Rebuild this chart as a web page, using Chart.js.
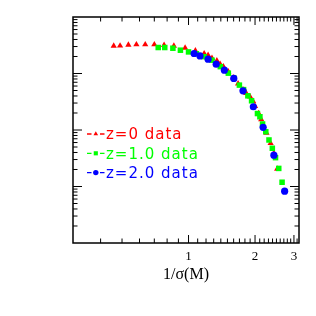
<!DOCTYPE html>
<html>
<head>
<meta charset="utf-8">
<script src="https://cdn.jsdelivr.net/npm/chart.js@4.4.1/dist/chart.umd.min.js"></script>
<style>
  html, body { margin: 0; padding: 0; background: #fff; }
</style>
</head>
<body>
<canvas id="myChart" width="316" height="316"></canvas>
<script>
// z=0 data
const z0X = [0.4586, 0.4900, 0.5343, 0.5808, 0.6368, 0.7002, 0.7750, 0.8583, 0.9650, 1.074,
  1.177, 1.226, 1.277, 1.344, 1.390, 1.439, 1.514, 1.593, 1.676, 1.764, 1.824, 1.900, 1.959,
  2.000, 2.077, 2.133, 2.185, 2.253, 2.353, 2.434, 2.520];
const z0Y = [0.3076, 0.3101, 0.3204, 0.3257, 0.3257, 0.3257, 0.3166, 0.3076, 0.2837, 0.2532,
  0.2259, 0.2108, 0.1866, 0.1686, 0.1462, 0.1321, 0.1078, 0.0845, 0.0662, 0.0519, 0.0450, 0.0387,
  0.0325, 0.0265, 0.0197, 0.01545, 0.01177, 0.00885, 0.00582, 0.00388, 0.00205];

// z=1.0 data
const z1X = [0.7292, 0.7806, 0.8496, 0.9189, 1.000, 1.085, 1.177, 1.277, 1.393, 1.514, 1.606,
  1.699, 1.775, 1.856, 1.929, 2.051, 2.104, 2.163, 2.237, 2.313, 2.395, 2.476, 2.561, 2.651];
const z1Y = [0.2884, 0.2884, 0.2803, 0.2584, 0.2411, 0.2240, 0.1983, 0.1721, 0.1321, 0.1014,
  0.0828, 0.0623, 0.0519, 0.0403, 0.0329, 0.01956, 0.01717, 0.01276, 0.00933, 0.00666, 0.00475,
  0.00324, 0.00209, 0.00119];

// z=2.0 data
const z2X = [1.060, 1.127, 1.226, 1.334, 1.453, 1.603, 1.764, 1.965, 2.176, 2.434, 2.723];
const z2Y = [0.2259, 0.2049, 0.1792, 0.1462, 0.1146, 0.0818, 0.0494, 0.0258, 0.01116, 0.00358, 0.000828];

const seriesLabels = ['z=0 data', 'z=1.0 data', 'z=2.0 data'];
const seriesColors = ['#ff0000', '#00ff00', '#0000ff'];

const xMajorTicks = [1, 2, 3];
const xMinorTicks = [0.4, 0.5, 0.6, 0.7, 0.8, 0.9, 1.1, 1.2, 1.3, 1.4, 1.5, 1.6, 1.7, 1.8, 1.9,
  2.1, 2.2, 2.3, 2.4, 2.5, 2.6, 2.7, 2.8, 2.9, 3.1];
const yMajorTicks = [0.001, 0.01, 0.1];
const yMinorTicks = [];
[0.0001, 0.001, 0.01, 0.1].forEach(d => {
  for (let k = 2; k <= 9; k++) yMinorTicks.push(k * d);
});

const toPoints = (xs, ys) => xs.map((x, i) => ({x: x, y: ys[i]}));

// frame with inward ticks on all four sides
const frameTicks = {
  id: 'frameTicks',
  afterDatasetsDraw(chart) {
    const {ctx, chartArea: a, scales: {x, y}} = chart;
    ctx.save();
    ctx.strokeStyle = '#000';
    ctx.lineWidth = 1;
    ctx.beginPath();
    const xt = (v, len) => {
      const p = x.getPixelForValue(v);
      ctx.moveTo(p, a.bottom); ctx.lineTo(p, a.bottom - len);
      ctx.moveTo(p, a.top); ctx.lineTo(p, a.top + len);
    };
    const yt = (v, len) => {
      const p = y.getPixelForValue(v);
      ctx.moveTo(a.left, p); ctx.lineTo(a.left + len, p);
      ctx.moveTo(a.right, p); ctx.lineTo(a.right - len, p);
    };
    xMajorTicks.forEach(v => xt(v, 8));
    xMinorTicks.forEach(v => xt(v, 4.5));
    yMajorTicks.forEach(v => yt(v, 9));
    yMinorTicks.forEach(v => yt(v, 4.5));
    ctx.stroke();
    ctx.lineWidth = 1.5;
    ctx.strokeRect(a.left, a.top, a.right - a.left, a.bottom - a.top);
    ctx.restore();
  }
};

// legend drawn inside the plot, like the original
const innerLegend = {
  id: 'innerLegend',
  afterDatasetsDraw(chart) {
    const ctx = chart.ctx;
    const a = chart.chartArea;
    ctx.save();
    chart.data.datasets.forEach((ds, i) => {
      const cy = a.top + 117 + i * 19.3;
      const x0 = a.left + 14;
      ctx.strokeStyle = ds.backgroundColor;
      ctx.fillStyle = ds.backgroundColor;
      ctx.lineWidth = 1.3;
      ctx.beginPath();
      ctx.moveTo(x0, cy); ctx.lineTo(x0 + 4.5, cy);
      ctx.moveTo(x0 + 13, cy); ctx.lineTo(x0 + 17.5, cy);
      ctx.stroke();
      Chart.helpers.drawPoint(ctx, {pointStyle: ds.pointStyle, radius: ds.pointRadius * 0.75, rotation: 0, borderWidth: 0}, x0 + 8.8, cy);
      ctx.font = '15px "DejaVu Sans"';
      ctx.letterSpacing = '1px';
      ctx.textBaseline = 'alphabetic';
      ctx.fillText(ds.label, x0 + 19, cy + 5.3);
    });
    ctx.restore();
  }
};

const config = {
  type: 'scatter',
  data: {
    datasets: [
      {label: seriesLabels[0], data: toPoints(z0X, z0Y), pointStyle: 'triangle', pointRadius: 3.6,
       backgroundColor: seriesColors[0], borderColor: seriesColors[0], pointBorderWidth: 0, order: 3},
      {label: seriesLabels[1], data: toPoints(z1X, z1Y), pointStyle: 'rect', pointRadius: 3.9,
       backgroundColor: seriesColors[1], borderColor: seriesColors[1], pointBorderWidth: 0, order: 2},
      {label: seriesLabels[2], data: toPoints(z2X, z2Y), pointStyle: 'circle', pointRadius: 3.6,
       backgroundColor: seriesColors[2], borderColor: seriesColors[2], pointBorderWidth: 0, order: 1}
    ]
  },
  options: {
    responsive: false,
    animation: false,
    devicePixelRatio: 1,
    layout: {padding: {left: 73, right: 17, top: 17, bottom: 0}},
    plugins: {legend: {display: false}, tooltip: {enabled: false}},
    scales: {
      x: {
        type: 'logarithmic',
        min: 0.31623,
        max: 3.1623,
        grid: {display: false, drawTicks: false},
        border: {display: false},
        afterBuildTicks: scale => { scale.ticks = xMajorTicks.map(v => ({value: v})); },
        afterFit: scale => { scale.height = 73; },
        ticks: {
          autoSkip: false,
          maxRotation: 0,
          padding: 6,
          color: '#000',
          font: {family: '"Liberation Serif"', size: 13},
          callback: v => String(v)
        },
        title: {
          display: true,
          text: '1/σ(M)',
          color: '#000',
          font: {family: '"Liberation Serif"', size: 16},
          padding: {bottom: 32}
        }
      },
      y: {
        type: 'logarithmic',
        min: 0.0001,
        max: 1,
        display: false
      }
    }
  },
  plugins: [frameTicks, innerLegend]
};

const myChart = new Chart(document.getElementById('myChart'), config);
</script>
</body>
</html>
